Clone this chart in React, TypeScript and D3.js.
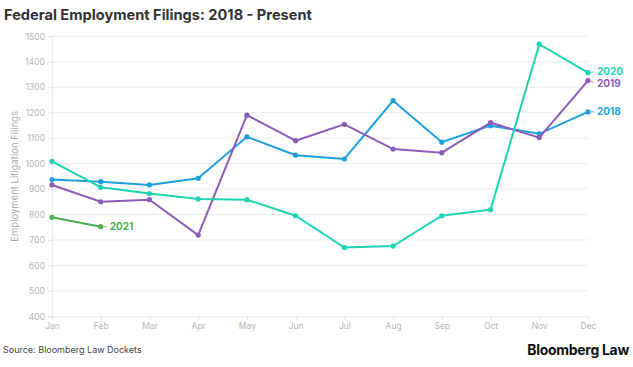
import React, { useRef, useEffect } from "react";
import * as d3 from "d3";

const months = ["Jan", "Feb", "Mar", "Apr", "May", "Jun", "Jul", "Aug", "Sep", "Oct", "Nov", "Dec"];
const yTicks = [400, 500, 600, 700, 800, 900, 1000, 1100, 1200, 1300, 1400, 1500];

const filings2018 = [937, 929, 916, 942, 1105, 1033, 1018, 1247, 1084, 1149, 1117, 1203];
const filings2019 = [916, 850, 858, 719, 1190, 1090, 1154, 1057, 1043, 1161, 1102, 1326];
const filings2020 = [1009, 907, 882, 861, 858, 795, 670, 676, 795, 819, 1469, 1357];
const filings2021 = [789, 752];

const seriesNames = ["2018", "2019", "2020", "2021"];
const seriesValues = [filings2018, filings2019, filings2020, filings2021];
const seriesColors = ["#1e9fdc", "#8b5cb8", "#1ed3b2", "#4cb050"];

const W = 633;
const H = 367;

const Chart = () => {
  const ref = useRef<SVGSVGElement>(null);

  useEffect(() => {
    if (!ref.current) return;
    const svg = d3.select(ref.current);
    svg.selectAll("*").remove();
    const font = "Inter, 'Noto Sans', sans-serif";

    const x = d3.scalePoint<string>().domain(months).range([52, 588]);
    const y = d3.scaleLinear().domain([400, 1500]).range([316.3, 36.3]);

    // title
    svg.append("text")
      .attr("x", 4).attr("y", 20)
      .attr("font-family", font).attr("font-size", 14.6).attr("font-weight", 700)
      .attr("fill", "#333")
      .text("Federal Employment Filings: 2018 - Present");

    // grid
    svg.append("g").selectAll("line").data(yTicks.slice(1)).join("line")
      .attr("x1", 52).attr("x2", 588)
      .attr("y1", (d) => y(d)).attr("y2", (d) => y(d))
      .attr("stroke", "#ececec").attr("stroke-width", 1);

    const yAxis = svg.append("g")
      .attr("transform", "translate(52,0)")
      .call(d3.axisLeft(y).tickValues(yTicks).tickFormat(d3.format("d")).tickSize(4).tickPadding(3));
    yAxis.select(".domain").attr("stroke", "#ececec");
    yAxis.selectAll(".tick line").attr("stroke", "#e4e4e4");
    yAxis.selectAll(".tick text").attr("fill", "#b5b5b5").attr("font-size", 8.5).attr("font-family", font);

    const xAxis = svg.append("g")
      .attr("transform", `translate(0,${y(400)})`)
      .call(d3.axisBottom(x).tickSize(4).tickPadding(3));
    xAxis.select(".domain").attr("stroke", "#ececec");
    xAxis.selectAll(".tick line").attr("stroke", "#e4e4e4");
    xAxis.selectAll(".tick text").attr("fill", "#b5b5b5").attr("font-size", 8.5).attr("font-family", font);

    // y axis title
    svg.append("text")
      .attr("transform", `translate(18,${y(950)}) rotate(-90)`)
      .attr("text-anchor", "middle")
      .attr("font-family", font).attr("font-size", 9.5).attr("fill", "#aaa")
      .text("Employment Litigation Filings");

    const line = d3.line<number>()
      .x((_, i) => x(months[i]) as number)
      .y((d) => y(d));

    seriesValues.forEach((vals, si) => {
      const color = seriesColors[si];
      const g = svg.append("g");
      g.append("path").datum(vals)
        .attr("fill", "none").attr("stroke", color).attr("stroke-width", 2)
        .attr("d", line);
      g.selectAll("circle").data(vals).join("circle")
        .attr("cx", (_, i) => x(months[i]) as number)
        .attr("cy", (d) => y(d))
        .attr("r", 2.6).attr("fill", color);

      const last = vals.length - 1;
      const lx = x(months[last]) as number;
      const ly = y(vals[last]);
      let labelY = ly;
      if (seriesNames[si] === "2020") labelY = ly - 1;
      if (seriesNames[si] === "2019") labelY = ly + 3;
      g.append("line")
        .attr("x1", lx + 3).attr("y1", ly)
        .attr("x2", lx + 6).attr("y2", labelY)
        .attr("stroke", color).attr("stroke-width", 0.8);
      g.append("text")
        .attr("x", lx + 9).attr("y", labelY)
        .attr("dy", "0.35em")
        .attr("font-family", font).attr("font-size", 10).attr("font-weight", 700)
        .attr("fill", color)
        .text(seriesNames[si]);
    });

    svg.append("text")
      .attr("x", 3).attr("y", 353)
      .attr("font-family", font).attr("font-size", 9).attr("fill", "#444")
      .text("Source: Bloomberg Law Dockets");

    svg.append("text")
      .attr("x", 629).attr("y", 355)
      .attr("text-anchor", "end")
      .attr("font-family", font).attr("font-size", 14).attr("font-weight", 700)
      .attr("fill", "#111").attr("letter-spacing", -0.3)
      .text("Bloomberg Law");
  }, []);

  return <svg ref={ref} width={W} height={H} style={{ display: "block" }} />;
};

export default function App() {
  return (
    <div style={{ position: "absolute", left: 0, top: 0, background: "#fff" }}>
      <Chart />
    </div>
  );
}
